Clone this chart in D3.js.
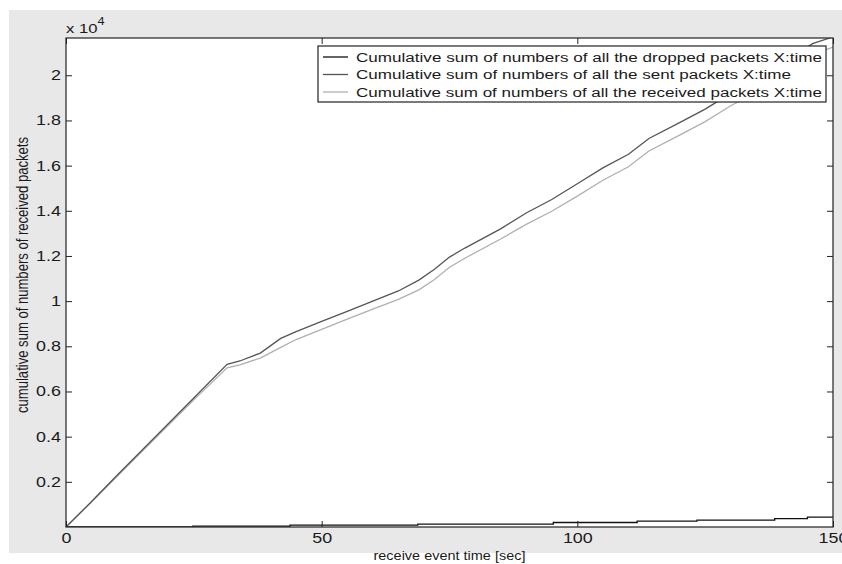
<!DOCTYPE html>
<html>
<head>
<meta charset="utf-8">
<script src="https://cdn.jsdelivr.net/npm/d3@7"></script>
<style>
  body { margin: 0; background: #fff; }
  text { font-family: "Liberation Sans", Arial, sans-serif; fill: #1a1a1a; }
</style>
</head>
<body>
<div id="chart"></div>
<script>
// receive event time [sec] and cumulative packet counts
const sentTime = [0, 5, 10, 15, 20, 25, 31.5, 34, 38, 42, 45, 50, 55, 60, 65, 69, 72, 75, 78, 85, 90, 95, 100, 105, 110, 114, 120, 125, 130, 135, 140, 146, 150];
const sentSum  = [0, 1130, 2290, 3430, 4570, 5710, 7200, 7350, 7700, 8350, 8650, 9100, 9550, 10000, 10450, 10930, 11400, 11950, 12350, 13200, 13900, 14500, 15200, 15900, 16500, 17200, 17900, 18500, 19200, 19800, 20500, 21400, 21700];
const recvSum  = [0, 1100, 2250, 3370, 4500, 5630, 7050, 7180, 7480, 7950, 8300, 8750, 9200, 9650, 10080, 10500, 10950, 11500, 11900, 12750, 13400, 13980, 14650, 15350, 15950, 16650, 17350, 17950, 18650, 19250, 19980, 20900, 21250];
const dropTime = [0, 24.8, 24.8, 43.8, 43.8, 68.8, 68.8, 95.3, 95.3, 111.7, 111.7, 123.4, 123.4, 138.6, 138.6, 145, 145, 150];
const dropSum  = [0, 0, 40, 40, 80, 80, 130, 130, 200, 200, 260, 260, 300, 300, 370, 370, 440, 440];

const xTicks = [0, 50, 100, 150];
const yTicks = [2000, 4000, 6000, 8000, 10000, 12000, 14000, 16000, 18000, 20000];
const legendLabels = [
  "Cumulative sum of numbers of all the dropped packets X:time",
  "Cumulative sum of numbers of all the sent packets X:time",
  "Cumulative sum of numbers of all the received packets X:time"
];
const legendColors = ["#111", "#555", "#b0b0b0"];
const legendWidths = [466, 435, 466];

const width = 842, height = 564;
const margin = {left: 66, right: 9, top: 38, bottom: 37};
const stretch = 1.28; // picture is squeezed wider than it is tall

const svg = d3.select("#chart")
  .append("svg")
  .attr("width", width)
  .attr("height", height);

// grey figure background
svg.append("rect")
  .attr("x", 9).attr("y", 10)
  .attr("width", width - 9).attr("height", 543)
  .attr("fill", "#e8e8e8");

const x = d3.scaleLinear()
  .domain([0, 150])
  .range([margin.left, width - margin.right]);

const y = d3.scaleLinear()
  .domain([0, 21650])
  .range([height - margin.bottom, margin.top]);

// white plot area
svg.append("rect")
  .attr("x", x(0)).attr("y", y(21650))
  .attr("width", x(150) - x(0)).attr("height", y(0) - y(21650))
  .attr("fill", "#fff");

svg.append("clipPath").attr("id", "clip")
  .append("rect")
  .attr("x", x(0)).attr("y", y(21650))
  .attr("width", x(150) - x(0)).attr("height", y(0) - y(21650));

const line = d3.line()
  .x(d => x(d[0]))
  .y(d => y(d[1]));

const plot = svg.append("g").attr("clip-path", "url(#clip)");

plot.append("path")
  .datum(sentTime.map((t, i) => [t, recvSum[i]]))
  .attr("d", line)
  .attr("fill", "none")
  .attr("stroke", legendColors[2])
  .attr("stroke-width", 1.3);

plot.append("path")
  .datum(sentTime.map((t, i) => [t, sentSum[i]]))
  .attr("d", line)
  .attr("fill", "none")
  .attr("stroke", legendColors[1])
  .attr("stroke-width", 1.3);

plot.append("path")
  .datum(dropTime.map((t, i) => [t, dropSum[i]]))
  .attr("d", line)
  .attr("fill", "none")
  .attr("stroke", legendColors[0])
  .attr("stroke-width", 1.3);

// axes, ticks pointing inward on all four sides
const fmtY = d => d3.format("~g")(d / 1e4);

const left = svg.append("g")
  .attr("transform", `translate(${x(0)},0)`)
  .call(d3.axisLeft(y).tickValues(yTicks).tickSize(-6).tickPadding(0).tickFormat(fmtY));
left.selectAll("text")
  .attr("x", 0)
  .attr("transform", `translate(-5,0) scale(${stretch},1)`);

svg.append("g")
  .attr("transform", `translate(${x(150)},0)`)
  .call(d3.axisRight(y).tickValues(yTicks).tickSize(-6).tickFormat(""));

const bottom = svg.append("g")
  .attr("transform", `translate(0,${y(0)})`)
  .call(d3.axisBottom(x).tickValues(xTicks).tickSize(-6).tickPadding(6));
bottom.selectAll("text")
  .attr("transform", `scale(${stretch},1)`);

svg.append("g")
  .attr("transform", `translate(0,${y(21650)})`)
  .call(d3.axisTop(x).tickValues(xTicks).tickSize(-6).tickFormat(""));

svg.selectAll(".domain").remove();
svg.selectAll(".tick line").attr("stroke", "#222");
svg.selectAll(".tick text").attr("font-size", "14px").attr("font-family", null).attr("fill", "#222");

// axes box
svg.append("rect")
  .attr("x", x(0)).attr("y", y(21650))
  .attr("width", x(150) - x(0)).attr("height", y(0) - y(21650))
  .attr("fill", "none")
  .attr("stroke", "#222")
  .attr("stroke-width", 1.2);

// exponent
const expo = svg.append("text")
  .attr("transform", `translate(66,33) scale(${stretch},1)`)
  .attr("font-size", "13px");
expo.append("tspan").text("x 10");
expo.append("tspan").attr("dy", -8).attr("font-size", "10px").text("4");

// axis labels
svg.append("text")
  .attr("x", x(75)).attr("y", 560)
  .attr("text-anchor", "middle")
  .attr("font-size", "12.5px")
  .attr("textLength", 152)
  .attr("lengthAdjust", "spacingAndGlyphs")
  .text("receive event time [sec]");

svg.append("text")
  .attr("transform", `translate(28,275) rotate(-90) scale(1,${stretch})`)
  .attr("text-anchor", "middle")
  .attr("font-size", "12.5px")
  .attr("textLength", 276)
  .attr("lengthAdjust", "spacingAndGlyphs")
  .text("cumulative sum of numbers of received packets");

// legend
const legend = svg.append("g");
legend.append("rect")
  .attr("x", 318).attr("y", 46)
  .attr("width", 508).attr("height", 56)
  .attr("fill", "#fff")
  .attr("stroke", "#222")
  .attr("stroke-width", 1.2);

legendLabels.forEach((label, i) => {
  const ly = 57 + i * 17.5;
  legend.append("line")
    .attr("x1", 323).attr("x2", 348)
    .attr("y1", ly).attr("y2", ly)
    .attr("stroke", legendColors[i])
    .attr("stroke-width", 1.3);
  legend.append("text")
    .attr("x", 356).attr("y", ly + 4.5)
    .attr("font-size", "12.5px")
    .attr("textLength", legendWidths[i])
    .attr("lengthAdjust", "spacingAndGlyphs")
    .text(label);
});
</script>
</body>
</html>
